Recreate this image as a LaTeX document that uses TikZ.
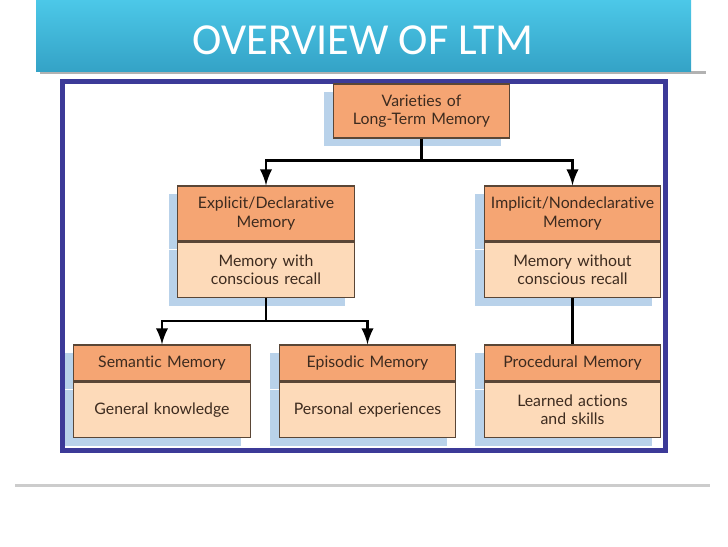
\documentclass[tikz,border=0pt]{standalone}
\usepackage{fontspec}
\setmainfont{Lato}[Ligatures=NoCommon]
\newfontfamily\titlefont{Carlito}
\usetikzlibrary{positioning,shadows,arrows}

\definecolor{titletop}{HTML}{4CC8E8}
\definecolor{titlebot}{HTML}{34A2C6}
\definecolor{frameblue}{HTML}{3C3A98}
\definecolor{headorange}{HTML}{F5A573}
\definecolor{bodypeach}{HTML}{FDDAB9}
\definecolor{shadowblue}{HTML}{B9D2EA}
\definecolor{boxline}{HTML}{5A4636}
\definecolor{inkbrown}{HTML}{3D2B1F}

\begin{document}
\begin{tikzpicture}[
		x=0.01cm,y=-0.01cm,
		box/.style={draw=boxline,line width=0.3pt,text=inkbrown,align=center,
			text width=1.7cm,minimum width=1.76cm,inner sep=0pt,
			font=\fontsize{4.5}{5.3}\selectfont,
			drop shadow={shadow xshift=-0.09cm,shadow yshift=-0.08cm,fill=shadowblue,opacity=1}},
		head/.style={box,fill=headorange,minimum height=0.55cm},
		shorthead/.style={box,fill=headorange,minimum height=0.36cm},
		body/.style={box,fill=bodypeach,minimum height=0.555cm},
		link/.style={line width=0.6pt,black}
		]
		\useasboundingbox (0,0) rectangle (728,546);
		% title bar
		\fill[black!30] (40,71) rectangle (706,74);
		\shade[top color=titletop,bottom color=titlebot] (36,0) rectangle (691,72);
		\node[text=white,font=\titlefont\fontsize{12.6}{15}\selectfont] (title) at (363,40) {OVERVIEW OF LTM};
		% frame and footer rule
		\draw[frameblue,line width=1.4pt] (62.5,81.5) rectangle (665.5,450.5);
		\fill[black!20] (15,484) rectangle (710,487);
		% boxes
		\node[head,minimum height=0.54cm] (var) at (421.5,111) {Varieties of\\Long-Term Memory};
		\node[head] (exphead) at (266,213.5) {Explicit/Declarative\\Memory};
		\node[body,below=0pt of exphead] (expbody) {Memory with\\conscious recall};
		\node[head] (imphead) at (572.5,213.5) {Implicit/Nondeclarative\\Memory};
		\node[body,below=0pt of imphead] (impbody) {Memory without\\conscious recall};
		\node[shorthead] (semhead) at (162,363) {Semantic Memory};
		\node[body,below=0pt of semhead] (sembody) {General knowledge};
		\node[shorthead] (epihead) at (367.5,363) {Episodic Memory};
		\node[body,below=0pt of epihead] (epibody) {Personal experiences};
		\node[shorthead] (prohead) at (572.5,363) {Procedural Memory};
		\node[body,below=0pt of prohead] (probody) {Learned actions\\and skills};
		% connectors
		\draw[link,-latex] (var.south) -- ++(0,22) -| (exphead.north);
		\draw[link,-latex] (var.south) -- ++(0,22) -| (imphead.north);
		\draw[link,-latex] (expbody.south) -- ++(0,23) -| (semhead.north);
		\draw[link,-latex] (expbody.south) -- ++(0,23) -| (epihead.north);
		\draw[link] (impbody.south) -- (prohead.north);
	\end{tikzpicture}
\end{document}
